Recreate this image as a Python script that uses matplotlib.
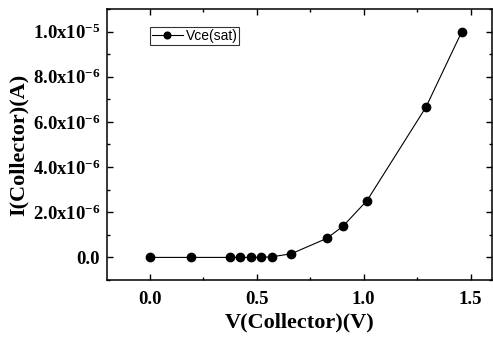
import matplotlib
matplotlib.use("Agg")
import matplotlib.pyplot as plt
from matplotlib.ticker import FixedLocator, MultipleLocator

v_collector = [0.0, 0.195, 0.377, 0.423, 0.471, 0.519, 0.572, 0.661, 0.827, 0.902, 1.016, 1.291, 1.459]
i_collector = [0.0, 0.0, 0.0, 0.0, 0.0, 0.0, 0.03e-6, 0.16e-6, 0.84e-6, 1.37e-6, 2.52e-6, 6.65e-6, 1.0e-5]
x_ticks = [0.0, 0.5, 1.0, 1.5]
y_ticks = [0.0, 2e-6, 4e-6, 6e-6, 8e-6, 1e-5]
y_tick_labels = ["0.0", r"2.0x10$^{-6}$", r"4.0x10$^{-6}$", r"6.0x10$^{-6}$", r"8.0x10$^{-6}$", r"1.0x10$^{-5}$"]
series_name = "Vce(sat)"

plt.rcParams['mathtext.fontset'] = 'custom'
plt.rcParams['mathtext.rm'] = 'Liberation Serif:bold'
plt.rcParams['mathtext.it'] = 'Liberation Serif:bold'
plt.rcParams['mathtext.bf'] = 'Liberation Serif:bold'
plt.rcParams['mathtext.default'] = 'rm'

fig = plt.figure(figsize=(4.93, 3.40), dpi=100)
ax = fig.add_axes([107/493, 1 - 280/340, 385/493, 271/340])

ax.plot(v_collector, i_collector, color='black', lw=0.8, marker='o', ms=6,
        markerfacecolor='black', markeredgecolor='black', label=series_name)

ax.set_xlim(-0.2, 1.6)
ax.set_ylim(-1e-6, 1.1e-5)
ax.xaxis.set_major_locator(FixedLocator(x_ticks))
ax.xaxis.set_minor_locator(MultipleLocator(0.25))
ax.yaxis.set_major_locator(FixedLocator(y_ticks))
ax.yaxis.set_minor_locator(MultipleLocator(1e-6))
ax.set_xticklabels(["%.1f" % t for t in x_ticks])
ax.set_yticklabels(y_tick_labels)

for lab in ax.get_xticklabels() + ax.get_yticklabels():
    lab.set_family('Liberation Serif')
    lab.set_fontweight('bold')
    lab.set_fontsize(13.5)

ax.tick_params(which='both', direction='in', top=True, right=True, width=1.0)
ax.tick_params(which='major', length=4)
ax.tick_params(which='minor', length=2.5)
ax.tick_params(axis='x', which='major', pad=8)
ax.tick_params(axis='y', which='major', pad=5)
for s in ax.spines.values():
    s.set_linewidth(1.1)

ax.set_xlabel("V(Collector)(V)", family='Liberation Serif', fontweight='bold', fontsize=16, labelpad=3)
ax.set_ylabel("I(Collector)(A)", family='Liberation Serif', fontweight='bold', fontsize=16, labelpad=3)

leg = ax.legend(loc='upper left', bbox_to_anchor=(0.112, 0.935), frameon=True, fancybox=False,
                prop={'family': 'Liberation Sans', 'size': 10}, handlelength=2.2, markerscale=0.8,
                handletextpad=0.2, borderpad=0.15, borderaxespad=0)
leg.get_frame().set_edgecolor('black')
leg.get_frame().set_linewidth(0.8)

fig.savefig("out.png", dpi=100)
